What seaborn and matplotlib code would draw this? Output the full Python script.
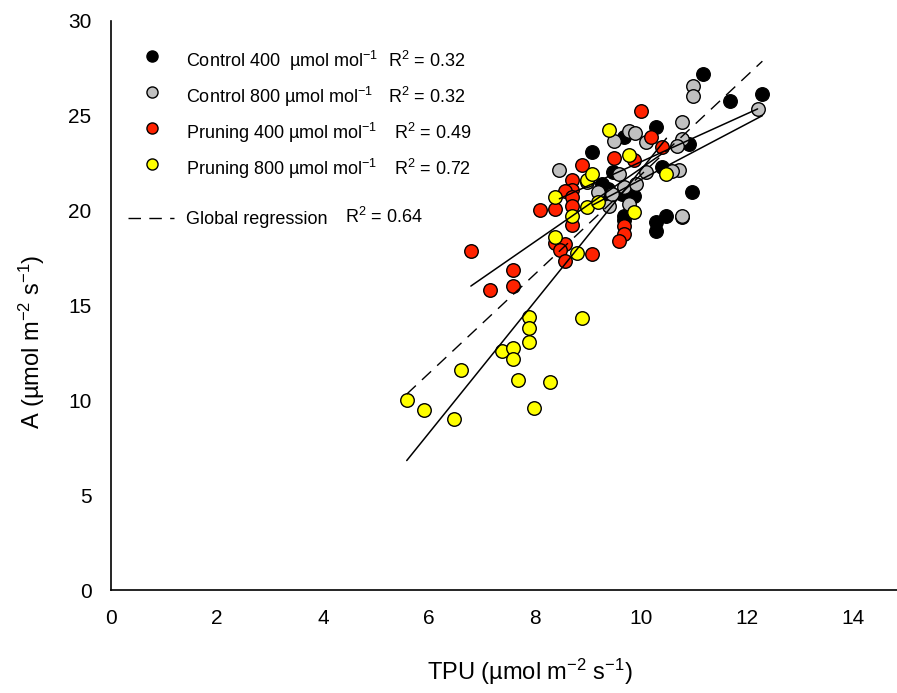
import numpy as np
import pandas as pd
import matplotlib
matplotlib.use("Agg")
import matplotlib.pyplot as plt
import seaborn as sns

# TPU vs net assimilation, four treatments
ctrl400_tpu = [11.17, 12.29, 11.67, 10.28, 9.68, 10.91, 9.08, 9.47, 10.39, 9.27,
               9.37, 9.65, 9.87, 10.97, 9.33, 9.68, 9.68, 10.47, 10.28, 10.28, 10.78]
ctrl400_a = [27.2, 26.14, 25.79, 24.39, 23.86, 23.51, 23.07, 22.02, 22.28, 21.4,
             21.14, 20.88, 20.79, 21.0, 20.7, 19.74, 19.5, 19.74, 19.39, 18.95, 19.65]

ctrl800_tpu = [10.98, 10.98, 12.2, 10.78, 9.77, 9.89, 9.49, 10.09, 10.78, 10.67,
               8.46, 10.72, 10.59, 10.09, 9.58, 8.99, 9.68, 9.9, 9.18, 9.4,
               9.77, 10.78, 9.45]
ctrl800_a = [26.58, 26.05, 25.35, 24.65, 24.2, 24.12, 23.68, 23.6, 23.77, 23.42,
             22.14, 22.14, 22.1, 22.02, 21.93, 21.49, 21.26, 21.4, 20.96, 20.26,
             20.35, 19.74, 20.9]

prun400_tpu = [10.0, 10.19, 10.39, 9.49, 9.87, 8.88, 8.69, 8.69, 8.57, 8.69,
               8.69, 8.09, 8.38, 8.69, 6.79, 7.58, 9.68, 9.68, 9.58, 8.38,
               8.57, 8.47, 8.57, 9.07, 7.16, 7.58]
prun400_a = [25.23, 23.89, 23.37, 22.77, 22.67, 22.42, 21.63, 21.09, 21.02, 20.7,
             20.26, 20.04, 20.09, 19.25, 17.86, 16.89, 19.21, 18.77, 18.42, 18.28,
             18.25, 17.9, 17.37, 17.72, 15.82, 16.04]

prun800_tpu = [5.58, 5.91, 6.47, 6.6, 7.38, 7.58, 7.58, 7.68, 7.88, 7.88,
               7.88, 7.99, 8.28, 8.88, 8.38, 8.8, 8.69, 8.38, 8.99, 9.18,
               8.99, 9.07, 9.4, 9.77, 9.87, 10.48]
prun800_a = [10.0, 9.47, 9.04, 11.58, 12.6, 12.75, 12.19, 11.05, 14.42, 13.81,
             13.07, 9.61, 10.96, 14.35, 18.6, 17.76, 19.74, 20.74, 20.18, 20.44,
             21.61, 21.93, 24.26, 22.95, 19.91, 21.93]

labels = ["Control 400  \u00b5mol mol$^{-1}$",
          "Control 800 \u00b5mol mol$^{-1}$",
          "Pruning 400 \u00b5mol mol$^{-1}$",
          "Pruning 800 \u00b5mol mol$^{-1}$"]
r2_text = ["R$^2$ = 0.32", "R$^2$ = 0.32", "R$^2$ = 0.49", "R$^2$ = 0.72"]
global_label = "Global regression"
global_r2 = "R$^2$ = 0.64"
colors = ["#000000", "#c0c0c0", "#ff2200", "#ffff00"]

x_ticks = [0, 2, 4, 6, 8, 10, 12, 14]
y_ticks = [0, 5, 10, 15, 20, 25, 30]

groups = [(ctrl400_tpu, ctrl400_a), (ctrl800_tpu, ctrl800_a),
          (prun400_tpu, prun400_a), (prun800_tpu, prun800_a)]
df = pd.concat([pd.DataFrame({"TPU": x, "A": y, "group": labels[i]})
                for i, (x, y) in enumerate(groups)], ignore_index=True)

sns.set_style("white")
plt.rcParams["font.family"] = ["Liberation Sans", "DejaVu Sans"]
plt.rcParams["mathtext.default"] = "regular"
for key in ["text.color", "axes.labelcolor", "xtick.color", "ytick.color",
            "xtick.labelcolor", "ytick.labelcolor"]:
    plt.rcParams[key] = "black"

W, H = 897, 693
fig = plt.figure(figsize=(W / 100, H / 100), dpi=100)
x0, y0, y30 = 111, 590, 21
ax = fig.add_axes([x0 / W, 1 - y0 / H, (W - x0) / W, (y0 - y30) / H])

# points
for i, lab in enumerate(labels):
    sub = df[df.group == lab]
    sns.scatterplot(data=sub, x="TPU", y="A", ax=ax, color=colors[i],
                    edgecolor="black", linewidth=1.0, s=95, zorder=3 + i,
                    legend=False)

# per-treatment regression lines
for i, lab in enumerate(labels):
    sub = df[df.group == lab]
    sns.regplot(data=sub, x="TPU", y="A", ax=ax, scatter=False, ci=None,
                truncate=True, line_kws=dict(color="black", lw=1.1, zorder=10))

# pooled regression
sns.regplot(data=df, x="TPU", y="A", ax=ax, scatter=False, ci=None,
            truncate=True,
            line_kws=dict(color="black", lw=1.0, ls=(0, (9, 6)), zorder=10))

ax.set_xlim(0, (W - x0) / 53.0)
ax.set_ylim(0, 30)
ax.set_xticks(x_ticks)
ax.set_yticks(y_ticks)
for s in ["top", "right"]:
    ax.spines[s].set_visible(False)
for s in ["left", "bottom"]:
    ax.spines[s].set_color("black")
    ax.spines[s].set_linewidth(1.2)
ax.tick_params(axis="both", direction="out", length=6, width=1.2,
               color="black", labelcolor="black", labelsize=15, pad=8)

ax.set_xlabel("")
ax.set_ylabel("")
fig.text(530 / W, 1 - 672 / H, "TPU (\u00b5mol m$^{-2}$ s$^{-1}$)",
         fontsize=17, ha="center", va="center")
fig.text(32 / W, 1 - 342 / H, "A (\u00b5mol m$^{-2}$ s$^{-1}$)",
         fontsize=17, ha="center", va="center", rotation=90)

# legend block drawn in figure pixel space
def fx(px):
    return px / W

def fy(py):
    return 1 - py / H

rows_y = [56, 92, 128, 164]
r2_x = [388, 388, 394, 394]
for i in range(4):
    fig.add_artist(plt.Line2D([fx(152)], [fy(rows_y[i])], marker="o",
                              markersize=8, markerfacecolor=colors[i],
                              markeredgecolor="black", markeredgewidth=1.0,
                              ls="none"))
    fig.text(fx(186), fy(rows_y[i] + 5), labels[i], fontsize=13,
             va="center", ha="left")
    fig.text(fx(r2_x[i]), fy(rows_y[i] + 5), r2_text[i], fontsize=13,
             va="center", ha="left")

fig.add_artist(plt.Line2D([fx(128), fx(174)], [fy(218), fy(218)],
                          color="black", lw=1.0, ls=(0, (9, 6))))
fig.text(fx(186), fy(219), global_label, fontsize=13, va="center", ha="left")
fig.text(fx(345), fy(217), global_r2, fontsize=13, va="center", ha="left")

fig.savefig("out.png", dpi=100, facecolor="white")
